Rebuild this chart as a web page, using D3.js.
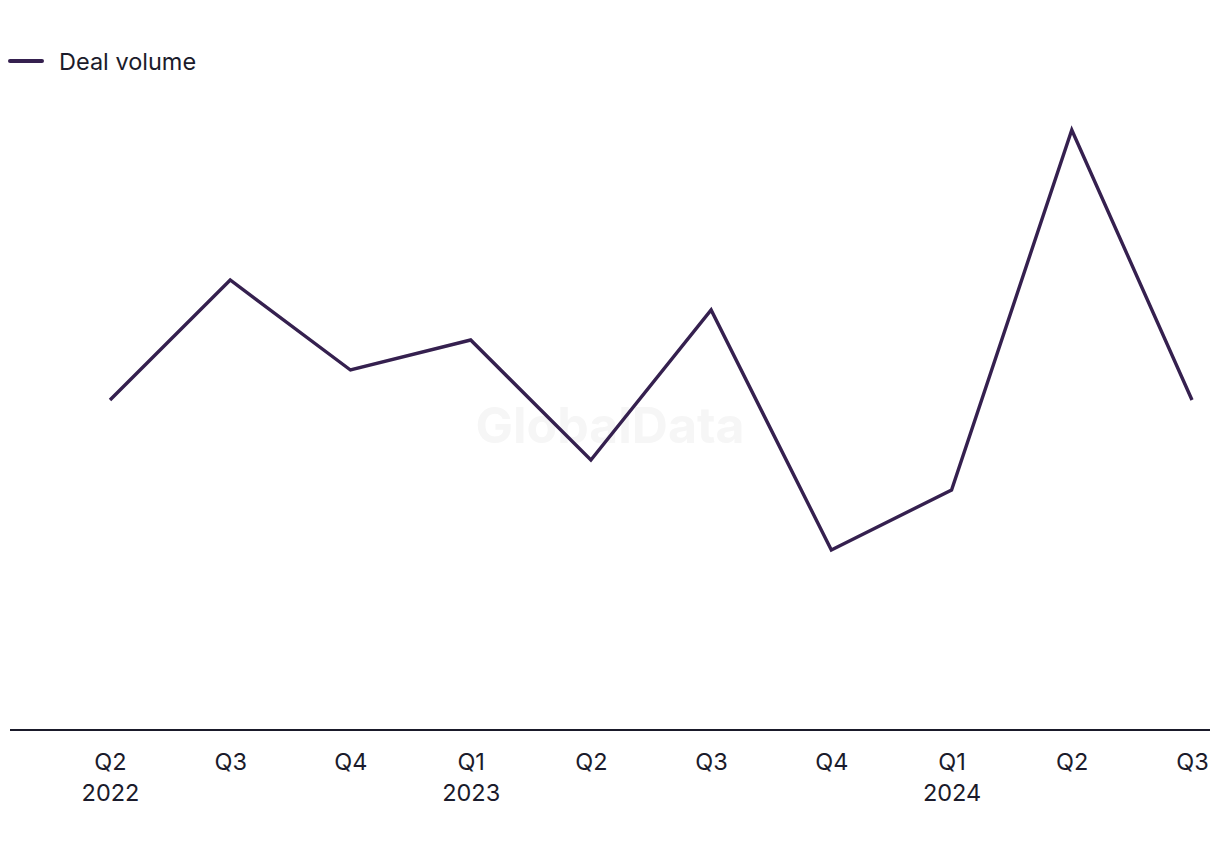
<!DOCTYPE html>
<html><head><meta charset="utf-8">
<script src="https://cdn.jsdelivr.net/npm/d3@7"></script>
<style>body{margin:0;background:#fff;} svg{display:block;}</style>
</head><body>
<svg id="chart" width="1220" height="850"></svg>
<script>
const quarters = ["Q2","Q3","Q4","Q1","Q2","Q3","Q4","Q1","Q2","Q3"];
const years = ["2022","","","2023","","","","2024","",""];
const dealVolume = [11,15,12,13,9,14,6,8,20,11];
const seriesName = "Deal volume";

const svg = d3.select("#chart");
const lineColor = "#35204f";
const textColor = "#1b1b2b";
const idx = d3.range(quarters.length);

const x = d3.scalePoint().domain(idx).range([110,1192]);
const y = d3.scaleLinear().domain([0,22]).range([730,70]);

// watermark
svg.append("text").attr("x",610).attr("y",443).attr("text-anchor","middle")
  .attr("font-family","Inter, 'Open Sans', sans-serif").attr("font-weight",700)
  .attr("font-size",50).attr("fill","#f6f6f6").text("GlobalData");

// legend
svg.append("line").attr("x1",10).attr("x2",42).attr("y1",61).attr("y2",61)
  .attr("stroke",lineColor).attr("stroke-width",4).attr("stroke-linecap","round");
svg.append("text").attr("x",59).attr("y",70).attr("font-family","Inter, sans-serif")
  .attr("font-size",23.5).attr("fill",textColor).text(seriesName);

// axis
const axis = d3.axisBottom(x).tickSize(0).tickPadding(0).tickFormat(() => "");
const ag = svg.append("g").attr("transform","translate(0,730)").call(axis);
ag.select(".domain").remove();
svg.append("line").attr("x1",10).attr("x2",1210).attr("y1",730).attr("y2",730)
  .attr("stroke","#1a1a2a").attr("stroke-width",2);
ag.selectAll(".tick").each(function(d){
  const g = d3.select(this);
  g.append("text").attr("y",40).attr("text-anchor","middle").attr("fill",textColor)
    .attr("font-family","Inter, sans-serif").attr("font-size",23.5).text(quarters[d]);
  if (years[d]) g.append("text").attr("y",71).attr("text-anchor","middle").attr("fill",textColor)
    .attr("font-family","Inter, sans-serif").attr("font-size",23.5).text(years[d]);
});

// line
svg.append("path").datum(idx)
  .attr("fill","none").attr("stroke",lineColor).attr("stroke-width",3.4)
  .attr("stroke-linejoin","miter")
  .attr("d", d3.line().x(i => x(i)).y(i => y(dealVolume[i])));
</script>
</body></html>
